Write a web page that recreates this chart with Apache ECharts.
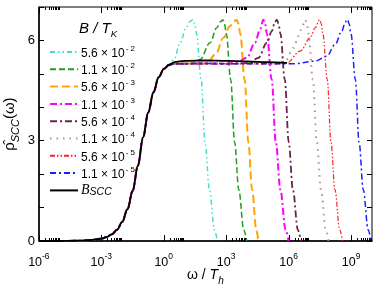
<!DOCTYPE html>
<html><head><meta charset="utf-8">
<script src="https://cdn.jsdelivr.net/npm/echarts@6/dist/echarts.min.js"></script>
<style>html,body{margin:0;padding:0;background:#fff}#c{width:374px;height:289px}</style>
</head><body><div id="c"></div>
<script>
// ---- data (x given as log10(omega / T_h)) ----
const seriesNames = ['5.6e-2','1.1e-2','5.6e-3','1.1e-3','5.6e-4','1.1e-4','5.6e-5','1.1e-5','B_SCC'];
const legendMantissa = ['5.6','1.1','5.6','1.1','5.6','1.1','5.6','1.1'];
const legendExponent = ['2','2','3','3','4','4','5','5'];
const xTickExponents = [-6,-3,0,3,6,9];
const yTickLabels = [0,3,6];

// shared low-frequency rise (all curves coincide here)
const riseLog = [-6,-5,-4.5,-4,-3.5,-3,-2.75,-2.5,-2.25,-2,-1.75,-1.5,-1.25,-1,-0.75,-0.5,-0.25,0,0.25];
const riseRho = [0,0,0.005,0.01,0.03,0.07,0.12,0.2,0.34,0.57,0.95,1.5,2.25,3.1,3.85,4.45,4.9,5.15,5.27];

// black B_SCC plateau
const bsccLog = [0.5,1,2,3,4,5,5.92];
const bsccRho = [5.35,5.39,5.4,5.39,5.37,5.35,5.33];

// coloured curves after the rise
const c1Log = [0.5,0.78,1.1,1.28,1.4,1.48,1.57,1.79,1.98,2.19,2.43,2.57];
const c1Rho = [5.45,5.94,6.42,6.58,6.62,6.5,6.2,4.83,2.95,1.53,0.33,0];
const c2Log = [0.5,1,1.3,1.74,2.22,2.54,2.72,2.83,2.91,3.0,3.21,3.4,3.6,3.84,3.98];
const c2Rho = [5.3,5.31,5.32,5.43,5.93,6.38,6.56,6.62,6.5,6.2,4.83,2.95,1.53,0.33,0];
const c3Log = [0.5,1,1.6,2.06,2.5,2.86,3.18,3.38,3.5,3.58,3.67,3.88,4.06,4.24,4.44,4.54];
const c3Rho = [5.3,5.31,5.3,5.31,5.6,6.08,6.43,6.58,6.62,6.5,6.2,4.83,2.95,1.53,0.33,0];
const c4Log = [0.5,2,3,3.5,3.98,4.38,4.62,4.78,4.86,4.95,5.18,5.38,5.6,5.85,5.99];
const c4Rho = [5.3,5.31,5.3,5.33,5.48,5.93,6.33,6.62,6.5,6.2,4.83,2.95,1.53,0.33,0];
const c5Log = [0.5,2,3,4.1,4.54,4.95,5.19,5.33,5.43,5.51,5.6,5.81,6.0,6.2,6.44,6.58];
const c5Rho = [5.3,5.31,5.3,5.32,5.48,5.93,6.28,6.55,6.62,6.5,6.2,4.83,2.95,1.53,0.33,0];
const c6Log = [0.5,2,4,5.3,5.83,6.23,6.47,6.63,6.79,6.87,6.95,7.16,7.35,7.55,7.78,7.91];
const c6Rho = [5.3,5.31,5.3,5.3,5.38,5.78,6.13,6.38,6.62,6.5,6.2,4.83,2.95,1.53,0.33,0];
const c7Log = [0.5,2,4,5.5,5.91,6.55,7.03,7.27,7.48,7.56,7.64,7.85,8.03,8.22,8.45,8.58];
const c7Rho = [5.3,5.31,5.3,5.3,5.33,5.68,6.08,6.38,6.62,6.5,6.2,4.83,2.95,1.53,0.33,0];
const c8Log = [0.5,2,4,6.23,7.27,7.83,8.23,8.55,8.72,8.82,8.9,8.99,9.2,9.38,9.58,9.82,9.95];
const c8Rho = [5.3,5.31,5.3,5.3,5.38,5.53,5.88,6.28,6.55,6.63,6.5,6.2,4.83,2.95,1.53,0.33,0];

const tailLogs = [c1Log,c2Log,c3Log,c4Log,c5Log,c6Log,c7Log,c8Log];
const tailRhos = [c1Rho,c2Rho,c3Rho,c4Rho,c5Rho,c6Rho,c7Rho,c8Rho];

// ---- styles ----
const colors = ['#3fe0d0','#229c22','#ffa500','#ff00ff','#6b2150','#bc8f8f','#ff2020','#1e1eff','#000000'];
const dashes = [[5,3,1.5,3,1.5,3],[6,3],[8,4],[7,3,2,3],[7,3,2,3],[1.5,5],[5,2,1.5,2,1.5,2],[6,3,2,3],'solid'];
const widths = [1.5,1.5,2,2,1.8,2,1.2,1.5,1.8];

function toData(logs, rhos){ return logs.map((e,i)=>[Math.pow(10,e), rhos[i]]); }

const series = [];
for (let i=0;i<8;i++){
  series.push({
    name: seriesNames[i], type:'line', symbol:'none', smooth:0.35, smoothMonotone:'x',
    xAxisIndex:0, yAxisIndex:0,
    lineStyle:{color:colors[i], width:widths[i], type:dashes[i]},
    itemStyle:{color:colors[i]},
    data: toData(riseLog.concat(tailLogs[i]), riseRho.concat(tailRhos[i])),
    z: 2+i
  });
}
series.push({
  name: seriesNames[8], type:'line', symbol:'none', smooth:0.35, smoothMonotone:'x',
  xAxisIndex:0, yAxisIndex:0,
  lineStyle:{color:'#000', width:widths[8], type:'solid'},
  itemStyle:{color:'#000'},
  data: toData(riseLog.concat(bsccLog), riseRho.concat(bsccRho)),
  z: 20
});

const FF = 'Liberation Sans, Arial, sans-serif';
const majorVals = xTickExponents.map(e=>Math.pow(10,e));
const minorVals = [];
xTickExponents.forEach(e=>{ for(let k=2;k<=9;k++) minorVals.push(k*Math.pow(10,e)); });

const supRich = {
  b:{fontSize:12.5, lineHeight:13, verticalAlign:'bottom', fontFamily:FF, color:'#000'},
  e:{fontSize:8.5, lineHeight:9, verticalAlign:'top', fontFamily:FF, color:'#000'},
  sp:{fontSize:1, lineHeight:17.5}
};

function xAxisBase(pos){
  return {type:'log', logBase:10, min:1e-6, max:1e10, position:pos, gridIndex:0,
    splitLine:{show:false}, axisLine:{show:false, onZero:false}};
}

const option = {
  animation:false,
  backgroundColor:'#fff',
  grid:{left:39, top:7, right:2, bottom:48, containLabel:false, outerBoundsMode:'none',
    show:true, borderColor:'#000', borderWidth:1, backgroundColor:'transparent'},
  title:{
    text:'{i|B / T}{k|K}{sp| }', left:79, top:21, padding:0,
    textStyle:{fontWeight:'normal', rich:{
      i:{fontSize:15, fontStyle:'italic', fontWeight:'normal', lineHeight:15, verticalAlign:'top', fontFamily:FF, color:'#000'},
      k:{fontSize:9.5, fontStyle:'italic', fontWeight:'normal', lineHeight:10, verticalAlign:'bottom', fontFamily:FF, color:'#000'},
      sp:{fontSize:1, lineHeight:18.5}
    }}
  },
  legend:{
    orient:'vertical', left:49, top:44.5, padding:0, itemWidth:28, itemHeight:14, itemGap:2.3,
    data: seriesNames,
    itemStyle:{color:'rgba(0,0,0,0)', borderWidth:0, opacity:0},
    formatter:function(name){
      const i = seriesNames.indexOf(name);
      if (i===8) return '{bi|B}{bs|SCC}{sp| }';
      return '{m|'+legendMantissa[i]+' \u00d7 10}{e|- '+legendExponent[i]+'}{sp| }';
    },
    textStyle:{padding:[0,0,0,-2], rich:{
      m:{fontSize:12, lineHeight:12, verticalAlign:'bottom', fontFamily:FF, color:'#000'},
      e:{fontSize:8, lineHeight:8, verticalAlign:'top', fontFamily:FF, color:'#000', padding:[0,0,0,1]},
      bi:{fontSize:14, lineHeight:13, fontStyle:'italic', verticalAlign:'top', fontFamily:'Liberation Serif, serif', color:'#000'},
      bs:{fontSize:10.5, lineHeight:10, fontStyle:'italic', verticalAlign:'bottom', fontFamily:FF, color:'#000'},
      sp:{fontSize:1, lineHeight:15}
    }}
  },
  xAxis:[
    Object.assign(xAxisBase('bottom'), {
      axisLine:{show:true, onZero:false, lineStyle:{color:'#000', width:1.5}},
      axisTick:{show:true, inside:true, length:6, customValues:majorVals, lineStyle:{color:'#000', width:1}},
      axisLabel:{show:true, customValues:majorVals, margin:11, rich:supRich,
        formatter:function(v){ const e=Math.round(Math.log10(v)); return '{b|10}{e|'+e+'}{sp| }'; }},
      name:'{r|\u03c9 / }{i|T}{s|h}{sp| }', nameLocation:'middle', nameGap:27, nameMoveOverlap:false,
      nameTextStyle:{rich:{
        r:{fontSize:14, lineHeight:14, verticalAlign:'top', fontFamily:FF, color:'#000'},
        i:{fontSize:14, lineHeight:14, fontStyle:'italic', verticalAlign:'top', fontFamily:FF, color:'#000'},
        s:{fontSize:10, lineHeight:10, fontStyle:'italic', verticalAlign:'bottom', fontFamily:FF, color:'#000'},
        sp:{fontSize:1, lineHeight:18}
      }}
    }),
    Object.assign(xAxisBase('bottom'), {
      axisTick:{show:true, inside:true, length:3, customValues:minorVals, lineStyle:{color:'#000', width:1}},
      axisLabel:{show:false}
    }),
    Object.assign(xAxisBase('top'), {
      axisTick:{show:true, inside:true, length:6, customValues:majorVals, lineStyle:{color:'#000', width:1}},
      axisLabel:{show:false}
    }),
    Object.assign(xAxisBase('top'), {
      axisTick:{show:true, inside:true, length:3, customValues:minorVals, lineStyle:{color:'#000', width:1}},
      axisLabel:{show:false}
    })
  ],
  yAxis:[
    {type:'value', min:0, max:7, interval:1, position:'left', gridIndex:0,
      splitLine:{show:false},
      axisLine:{show:true, onZero:false, lineStyle:{color:'#000', width:1.5}},
      axisTick:{show:true, inside:true, length:5, lineStyle:{color:'#000'}},
      axisLabel:{show:true, customValues:yTickLabels, margin:4, fontSize:13, fontFamily:FF, color:'#000'},
      name:'{r|\u03c1\u0302}{s|SCC}{r|(\u03c9)}{sp| }', nameLocation:'middle', nameRotate:90, nameGap:18, nameMoveOverlap:false,
      nameTextStyle:{rich:{
        r:{fontSize:15, lineHeight:15, verticalAlign:'top', fontFamily:FF, color:'#000'},
        s:{fontSize:11, lineHeight:11, fontStyle:'italic', verticalAlign:'bottom', fontFamily:FF, color:'#000'},
        sp:{fontSize:1, lineHeight:19}
      }}
    },
    {type:'value', min:0, max:7, interval:1, position:'right', gridIndex:0,
      splitLine:{show:false},
      axisLine:{show:false, onZero:false},
      axisTick:{show:true, inside:true, length:5, lineStyle:{color:'#000'}},
      axisLabel:{show:false}
    }
  ],
  series: series
};

const chart = echarts.init(document.getElementById('c'), null, {renderer:'canvas'});
chart.setOption(option);
</script>
</body></html>
